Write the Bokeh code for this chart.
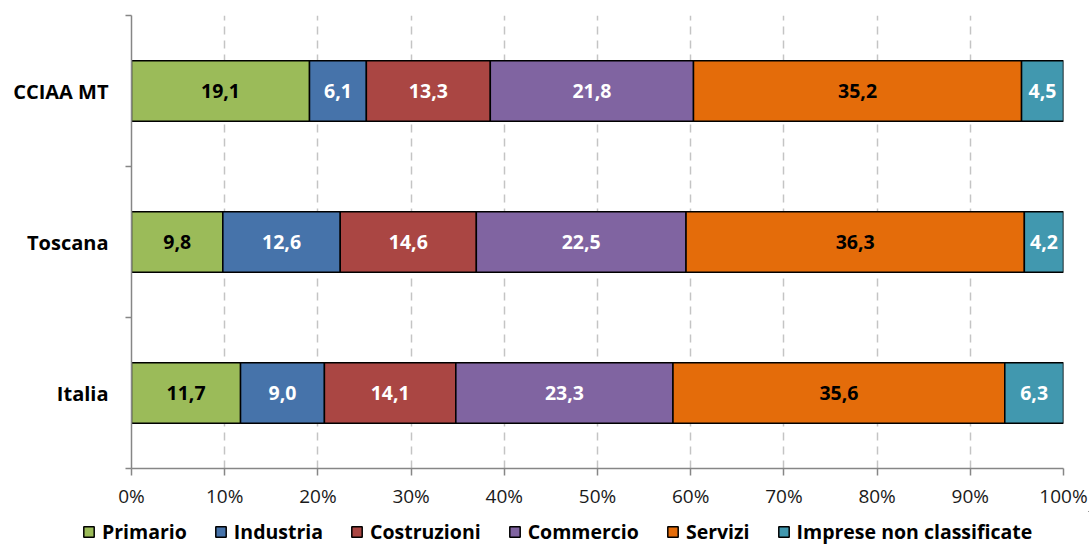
import numpy as np
from bokeh.plotting import figure
from bokeh.models import (Range1d, FixedTicker, PrintfTickFormatter, Legend, LegendItem,
                          ColumnDataSource)
from bokeh.core.properties import value
from bokeh.embed import file_html
from bokeh.resources import INLINE

categories = ["CCIAA MT", "Toscana", "Italia"]
series = ["Primario", "Industria", "Costruzioni", "Commercio", "Servizi", "Imprese non classificate"]
primario = [19.1, 9.8, 11.7]
industria = [6.1, 12.6, 9.0]
costruzioni = [13.3, 14.6, 14.1]
commercio = [21.8, 22.5, 23.3]
servizi = [35.2, 36.3, 35.6]
non_classificate = [4.5, 4.2, 6.3]
x_ticks = [0, 10, 20, 30, 40, 50, 60, 70, 80, 90, 100]

values = [primario, industria, costruzioni, commercio, servizi, non_classificate]
colors = ["#9BBB59", "#4673AA", "#AA4643", "#8064A1", "#E46C0A", "#4198AF"]
text_colors = ["black", "white", "white", "white", "black", "white"]

FONT = "Open Sans"
W = 1089
H1 = 511
n = len(categories)
ypos = [n - i - 0.5 for i in range(n)]

p = figure(width=W, height=H1, output_backend="svg", toolbar_location=None,
           x_range=Range1d(0, 100), y_range=Range1d(0, n),
           min_border_left=131, min_border_right=W - 1063, min_border_top=15,
           min_border_bottom=H1 - 471)
p.outline_line_color = None

left = np.zeros(n)
for k, (name, vals) in enumerate(zip(series, values)):
    vals = np.array(vals, dtype=float)
    right = left + vals
    src = ColumnDataSource(dict(y=ypos, left=left.tolist(), right=right.tolist(),
                                mid=((left + right) / 2).tolist(),
                                lab=[f"{v:.1f}".replace(".", ",") for v in vals]))
    p.hbar(y="y", left="left", right="right", height=0.4, source=src,
           fill_color=colors[k], line_color="black", line_width=1.5)
    p.text(x="mid", y="y", text="lab", source=src, text_align="center",
           text_baseline="middle", text_font=value(FONT), text_font_style="bold",
           text_font_size="19.5px", text_color=text_colors[k])
    left = right

# axes
xa = p.xaxis[0]
xa.ticker = FixedTicker(ticks=x_ticks)
xa.formatter = PrintfTickFormatter(format="%d%%")
xa.axis_line_color = "#868686"
xa.axis_line_width = 1.5
xa.major_tick_line_color = "#868686"
xa.major_tick_line_width = 1.5
xa.major_tick_in = 0
xa.major_tick_out = 7
xa.minor_tick_line_color = None
xa.major_label_text_font = FONT
xa.major_label_text_font_size = "19px"
xa.major_label_text_color = "#1a1a1a"
xa.major_label_standoff = 7

ya = p.yaxis[0]
ya.ticker = FixedTicker(ticks=ypos, minor_ticks=[0, 1, 2, 3])
ya.major_label_overrides = {y: c for y, c in zip(ypos, categories)}
ya.axis_line_color = "#868686"
ya.axis_line_width = 1.5
ya.major_tick_line_color = None
ya.major_tick_in = 0
ya.major_tick_out = 0
ya.minor_tick_line_color = "#868686"
ya.minor_tick_line_width = 1.5
ya.minor_tick_in = 0
ya.minor_tick_out = 6
ya.major_label_text_font = FONT
ya.major_label_text_font_style = "bold"
ya.major_label_text_font_size = "20px"
ya.major_label_text_color = "black"
ya.major_label_standoff = 17

p.ygrid.grid_line_color = None
p.xgrid.ticker = FixedTicker(ticks=x_ticks[1:])
p.xgrid.grid_line_color = "#C4C4C4"
p.xgrid.grid_line_width = 1.5
p.xgrid.grid_line_dash = "8 6"
p.xgrid.level = "underlay"

# legend strip below the chart (separate root, so frames are not aligned)
H2 = 545 - H1
lg = figure(width=W, height=H2, output_backend="svg", toolbar_location=None,
            x_range=Range1d(0, 1), y_range=Range1d(0, 1),
            x_axis_type=None, y_axis_type=None,
            min_border_left=0, min_border_right=0, min_border_top=0, min_border_bottom=0)
lg.outline_line_color = None
lg.grid.grid_line_color = None
items = []
for k, name in enumerate(series):
    # legend-only renderer: its bar lies far outside the visible ranges
    r = lg.hbar(y=[50], left=[50], right=[51], height=0.4,
                fill_color=colors[k], line_color="black", line_width=1.5)
    items.append(LegendItem(label=name, renderers=[r]))
legend = Legend(items=items, orientation="horizontal", location=(82, 0),
                label_text_font=FONT, label_text_font_style="bold",
                label_text_font_size="19.5px", label_text_color="black",
                glyph_width=13, glyph_height=13, label_standoff=7, spacing=27,
                padding=0, margin=0, border_line_color=None, background_fill_alpha=0,
                label_height=13)
lg.add_layout(legend, "center")

open("out.html", "w").write(file_html([p, lg], INLINE))
